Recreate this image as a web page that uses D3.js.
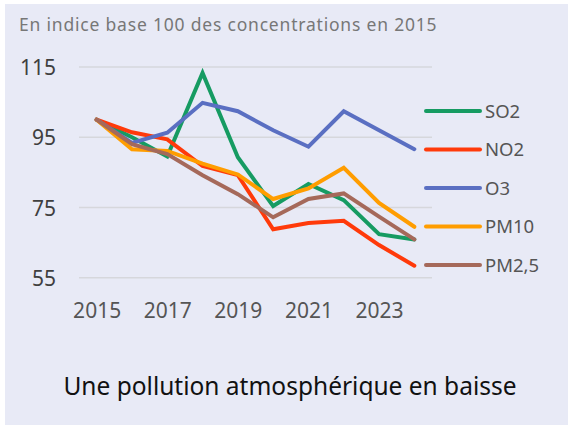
<!DOCTYPE html>
<html>
<head>
<meta charset="utf-8">
<script src="https://cdn.jsdelivr.net/npm/d3@7"></script>
<style>
  html, body { margin: 0; padding: 0; background: #ffffff; }
  svg { display: block; }
  text { font-family: "Noto Sans", "DejaVu Sans", sans-serif; }
</style>
</head>
<body>
<svg id="chart" width="572" height="426"></svg>
<script>
// Air pollutant concentrations, index base 100 in 2015
const years = [2015, 2016, 2017, 2018, 2019, 2020, 2021, 2022, 2023, 2024];
const yearTicks = [2015, 2017, 2019, 2021, 2023];
const valueTicks = [55, 75, 95, 115];

const so2  = [100, 95.0, 89.5, 113.3, 89.3, 75.4, 81.7, 77.1, 67.4, 65.9];
const no2  = [100, 96.4, 94.4, 86.8, 84.2, 68.8, 70.6, 71.2, 64.3, 58.4];
const o3   = [100, 93.4, 96.3, 104.8, 102.4, 97.0, 92.3, 102.4, 97.0, 91.6];
const pm10 = [100, 91.6, 91.1, 87.5, 84.4, 77.4, 80.4, 86.3, 76.3, 69.5];
const pm25 = [100, 93.0, 90.2, 84.2, 78.8, 72.2, 77.4, 79.0, 72.4, 65.9];

const seriesNames = ["SO2", "NO2", "O3", "PM10", "PM2,5"];
const seriesValues = [so2, no2, o3, pm10, pm25];
const seriesColors = ["#169b62", "#ff3a0a", "#5a6fc2", "#ff9d00", "#a5695a"];

const subtitle = "En indice base 100 des concentrations en 2015";
const title = "Une pollution atmosphérique en baisse";

const svg = d3.select("#chart");

// panel background
svg.append("rect")
  .attr("x", 5).attr("y", 4)
  .attr("width", 563).attr("height", 421)
  .attr("fill", "#e8eaf6");

const plot = { left: 79, right: 432, top: 67, bottom: 277.7 };

const x = d3.scalePoint().domain(years).range([plot.left, plot.right]).padding(0.5);
const y = d3.scaleLinear().domain([55, 115]).range([plot.bottom, plot.top]);

// gridlines
svg.append("g")
  .selectAll("line")
  .data(valueTicks)
  .join("line")
  .attr("x1", plot.left).attr("x2", plot.right)
  .attr("y1", d => y(d)).attr("y2", d => y(d))
  .attr("stroke", "#d6d7dc")
  .attr("stroke-width", 1.5);

// value axis labels
const yAxis = svg.append("g")
  .attr("transform", `translate(56,0)`)
  .call(d3.axisLeft(y).tickValues(valueTicks).tickSize(0).tickPadding(0));
yAxis.select(".domain").remove();
yAxis.selectAll("text")
  .attr("font-size", 21)
  .attr("fill", "#3f3f3f")
  .attr("dy", "0.36em");

// year axis labels
const xAxis = svg.append("g")
  .attr("transform", `translate(0,318)`)
  .call(d3.axisBottom(x).tickValues(yearTicks).tickSize(0).tickPadding(0));
xAxis.select(".domain").remove();
xAxis.selectAll("text")
  .attr("font-size", 21)
  .attr("fill", "#555555")
  .attr("y", 0)
  .attr("dy", 0);

// series lines
const line = d3.line()
  .x((d, i) => x(years[i]))
  .y(d => y(d));

svg.append("g")
  .selectAll("path")
  .data(seriesValues)
  .join("path")
  .attr("d", d => line(d))
  .attr("fill", "none")
  .attr("stroke", (d, i) => seriesColors[i])
  .attr("stroke-width", 4)
  .attr("stroke-linejoin", "miter")
  .attr("stroke-linecap", "round");

// legend
const legend = svg.append("g")
  .selectAll("g")
  .data(seriesNames)
  .join("g")
  .attr("transform", (d, i) => `translate(426,${111 + i * 38.5})`);

legend.append("line")
  .attr("x1", 0).attr("x2", 54)
  .attr("stroke", (d, i) => seriesColors[i])
  .attr("stroke-width", 4)
  .attr("stroke-linecap", "round");

legend.append("text")
  .attr("x", 59)
  .attr("dy", "0.36em")
  .attr("font-size", 18.5)
  .attr("fill", "#555555")
  .text(d => d);

// subtitle
svg.append("text")
  .attr("x", 19).attr("y", 30.5)
  .attr("font-size", 17.5)
  .attr("letter-spacing", "0.8px")
  .attr("fill", "#777777")
  .text(subtitle);

// title
svg.append("text")
  .attr("x", 290).attr("y", 395)
  .attr("text-anchor", "middle")
  .attr("font-size", 24.5)
  .attr("fill", "#111111")
  .text(title);
</script>
</body>
</html>
